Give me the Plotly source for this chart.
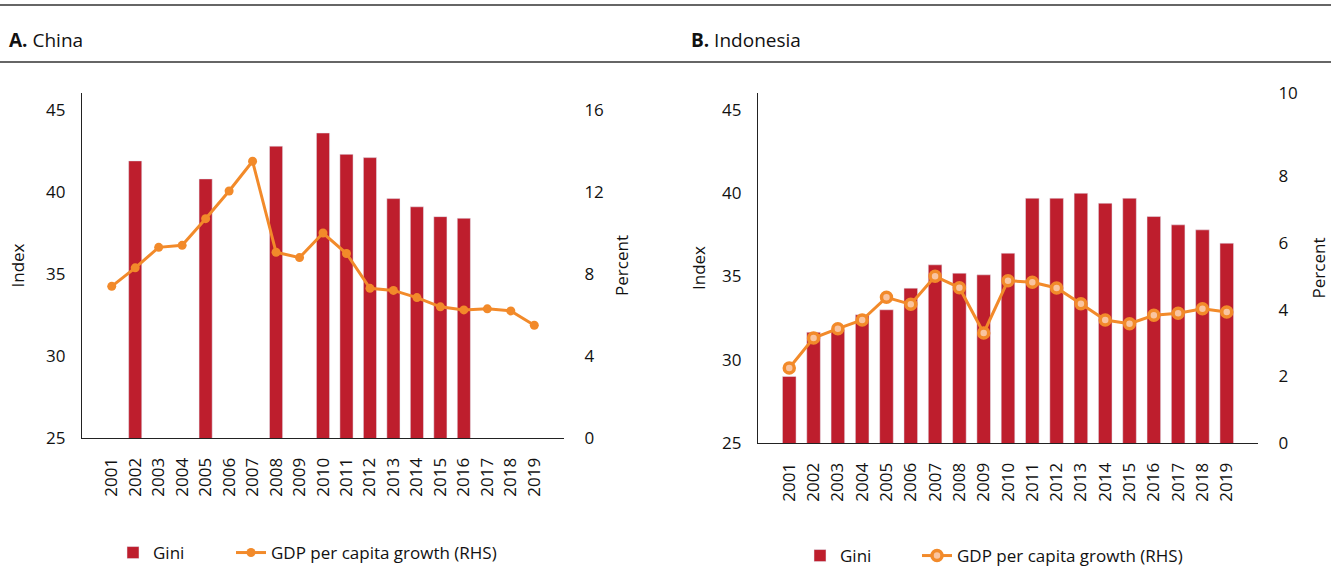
import plotly.graph_objects as go

years = [str(y) for y in range(2001, 2020)]

china_gini = [None, 41.9, None, None, 40.8, None, None, 42.8, None, 43.6,
              42.3, 42.1, 39.6, 39.1, 38.5, 38.4, None, None, None]
china_gdp = [7.4, 8.3, 9.3, 9.4, 10.7, 12.05, 13.5, 9.06, 8.8, 10.0,
             9.0, 7.3, 7.2, 6.85, 6.4, 6.25, 6.3, 6.2, 5.5]

indo_gini = [29.0, 31.65, 31.8, 32.7, 33.0, 34.3, 35.7, 35.2, 35.1, 36.4,
             39.7, 39.7, 40.0, 39.4, 39.7, 38.6, 38.1, 37.8, 37.0]
indo_gdp = [2.25, 3.15, 3.43, 3.69, 4.37, 4.16, 5.0, 4.66, 3.30, 4.87,
            4.82, 4.65, 4.18, 3.69, 3.58, 3.83, 3.89, 4.03, 3.93]

china_right_ticks = [0, 4, 8, 12, 16]
indo_right_ticks = [0, 2, 4, 6, 8, 10.5]
indo_right_text = ["0", "2", "4", "6", "8", "10"]
left_ticks = [25, 30, 35, 40, 45]

RED = "#BE1E2D"
ORANGE = "#F28A2A"
FONT = "Open Sans"
W, H = 1331, 581

def px(x):
    return x / W

def py(y):
    return 1 - y / H

fig = go.Figure()

fig.add_trace(go.Bar(x=years, y=china_gini, marker_color=RED, name="Gini",
                     xaxis="x", yaxis="y", legend="legend"))
fig.add_trace(go.Scatter(x=years, y=china_gdp, mode="lines+markers",
                         line=dict(color=ORANGE, width=3),
                         marker=dict(size=9, color=ORANGE),
                         name="GDP per capita growth (RHS)",
                         xaxis="x", yaxis="y2", legend="legend3"))
fig.add_trace(go.Bar(x=years, y=indo_gini, marker_color=RED, name="Gini",
                     xaxis="x2", yaxis="y3", legend="legend2"))
fig.add_trace(go.Scatter(x=years, y=indo_gdp, mode="lines+markers",
                         line=dict(color=ORANGE, width=3),
                         marker=dict(size=10, color="#F9C4A0",
                                     line=dict(color=ORANGE, width=3.5)),
                         name="GDP per capita growth (RHS)",
                         xaxis="x2", yaxis="y4", legend="legend4"))

tickfont = dict(family=FONT, size=17, color="#111")
titlefont = dict(family=FONT, size=17, color="#111")
xcommon = dict(type="category", tickangle=-90, showline=True, linecolor="#222",
               linewidth=1.2, ticks="outside", ticklen=12, tickcolor="rgba(0,0,0,0)",
               showgrid=False, zeroline=False, tickfont=tickfont)
ycommon_left = dict(showline=True, linecolor="#222", linewidth=1.2, showgrid=False,
                    zeroline=False, ticks="outside", ticklen=12,
                    tickcolor="rgba(0,0,0,0)", tickfont=tickfont,
                    tickmode="array", tickvals=left_ticks)
ycommon_right = dict(showline=False, showgrid=False, zeroline=False, ticks="outside",
                     ticklen=16, tickcolor="rgba(0,0,0,0)", tickfont=tickfont,
                     side="right")

def leg(x, y):
    return dict(orientation="h", x=px(x), y=py(y), yanchor="middle", xanchor="left",
                font=dict(family=FONT, size=17, color="#111"),
                bgcolor="rgba(0,0,0,0)")

fig.update_layout(
    width=W, height=H,
    margin=dict(l=0, r=0, t=0, b=0, autoexpand=False),
    paper_bgcolor="white", plot_bgcolor="white",
    font=dict(family=FONT, size=17, color="#111"),
    bargap=0.44,
    xaxis=dict(domain=[px(82), px(564)], anchor="y", **xcommon),
    yaxis=dict(domain=[py(438), py(93)], range=[25, 46.04], anchor="x",
               title=dict(text="Index", font=titlefont, standoff=17), **ycommon_left),
    yaxis2=dict(overlaying="y", anchor="x", range=[0, 16.83], tickmode="array",
                tickvals=china_right_ticks,
                title=dict(text="Percent", font=titlefont, standoff=13), **ycommon_right),
    xaxis2=dict(domain=[px(758), px(1258)], anchor="y3", **xcommon),
    yaxis3=dict(domain=[py(443), py(93)], range=[25, 46.02], anchor="x2",
                title=dict(text="Index", font=titlefont, standoff=12), **ycommon_left),
    yaxis4=dict(overlaying="y3", anchor="x2", range=[0, 10.5], tickmode="array",
                tickvals=indo_right_ticks, ticktext=indo_right_text,
                title=dict(text="Percent", font=titlefont, standoff=16), **ycommon_right),
    legend=leg(113, 553),
    legend3=leg(231, 553),
    legend2=leg(800, 556),
    legend4=leg(917, 556),
    showlegend=True,
)

for yy in (5, 62):
    fig.add_shape(type="line", xref="paper", yref="paper", x0=0, x1=1,
                  y0=py(yy), y1=py(yy), line=dict(color="#333", width=1.5))

fig.add_annotation(text="<b>A.</b> China", xref="paper", yref="paper",
                   x=px(7), y=py(40), xanchor="left", yanchor="middle", showarrow=False,
                   font=dict(family=FONT, size=19, color="#111"))
fig.add_annotation(text="<b>B.</b> Indonesia", xref="paper", yref="paper",
                   x=px(689), y=py(40), xanchor="left", yanchor="middle", showarrow=False,
                   font=dict(family=FONT, size=19, color="#111"))

fig.write_html("out.html", config={"displayModeBar": False},
               post_script="document.body.style.margin='0';")
